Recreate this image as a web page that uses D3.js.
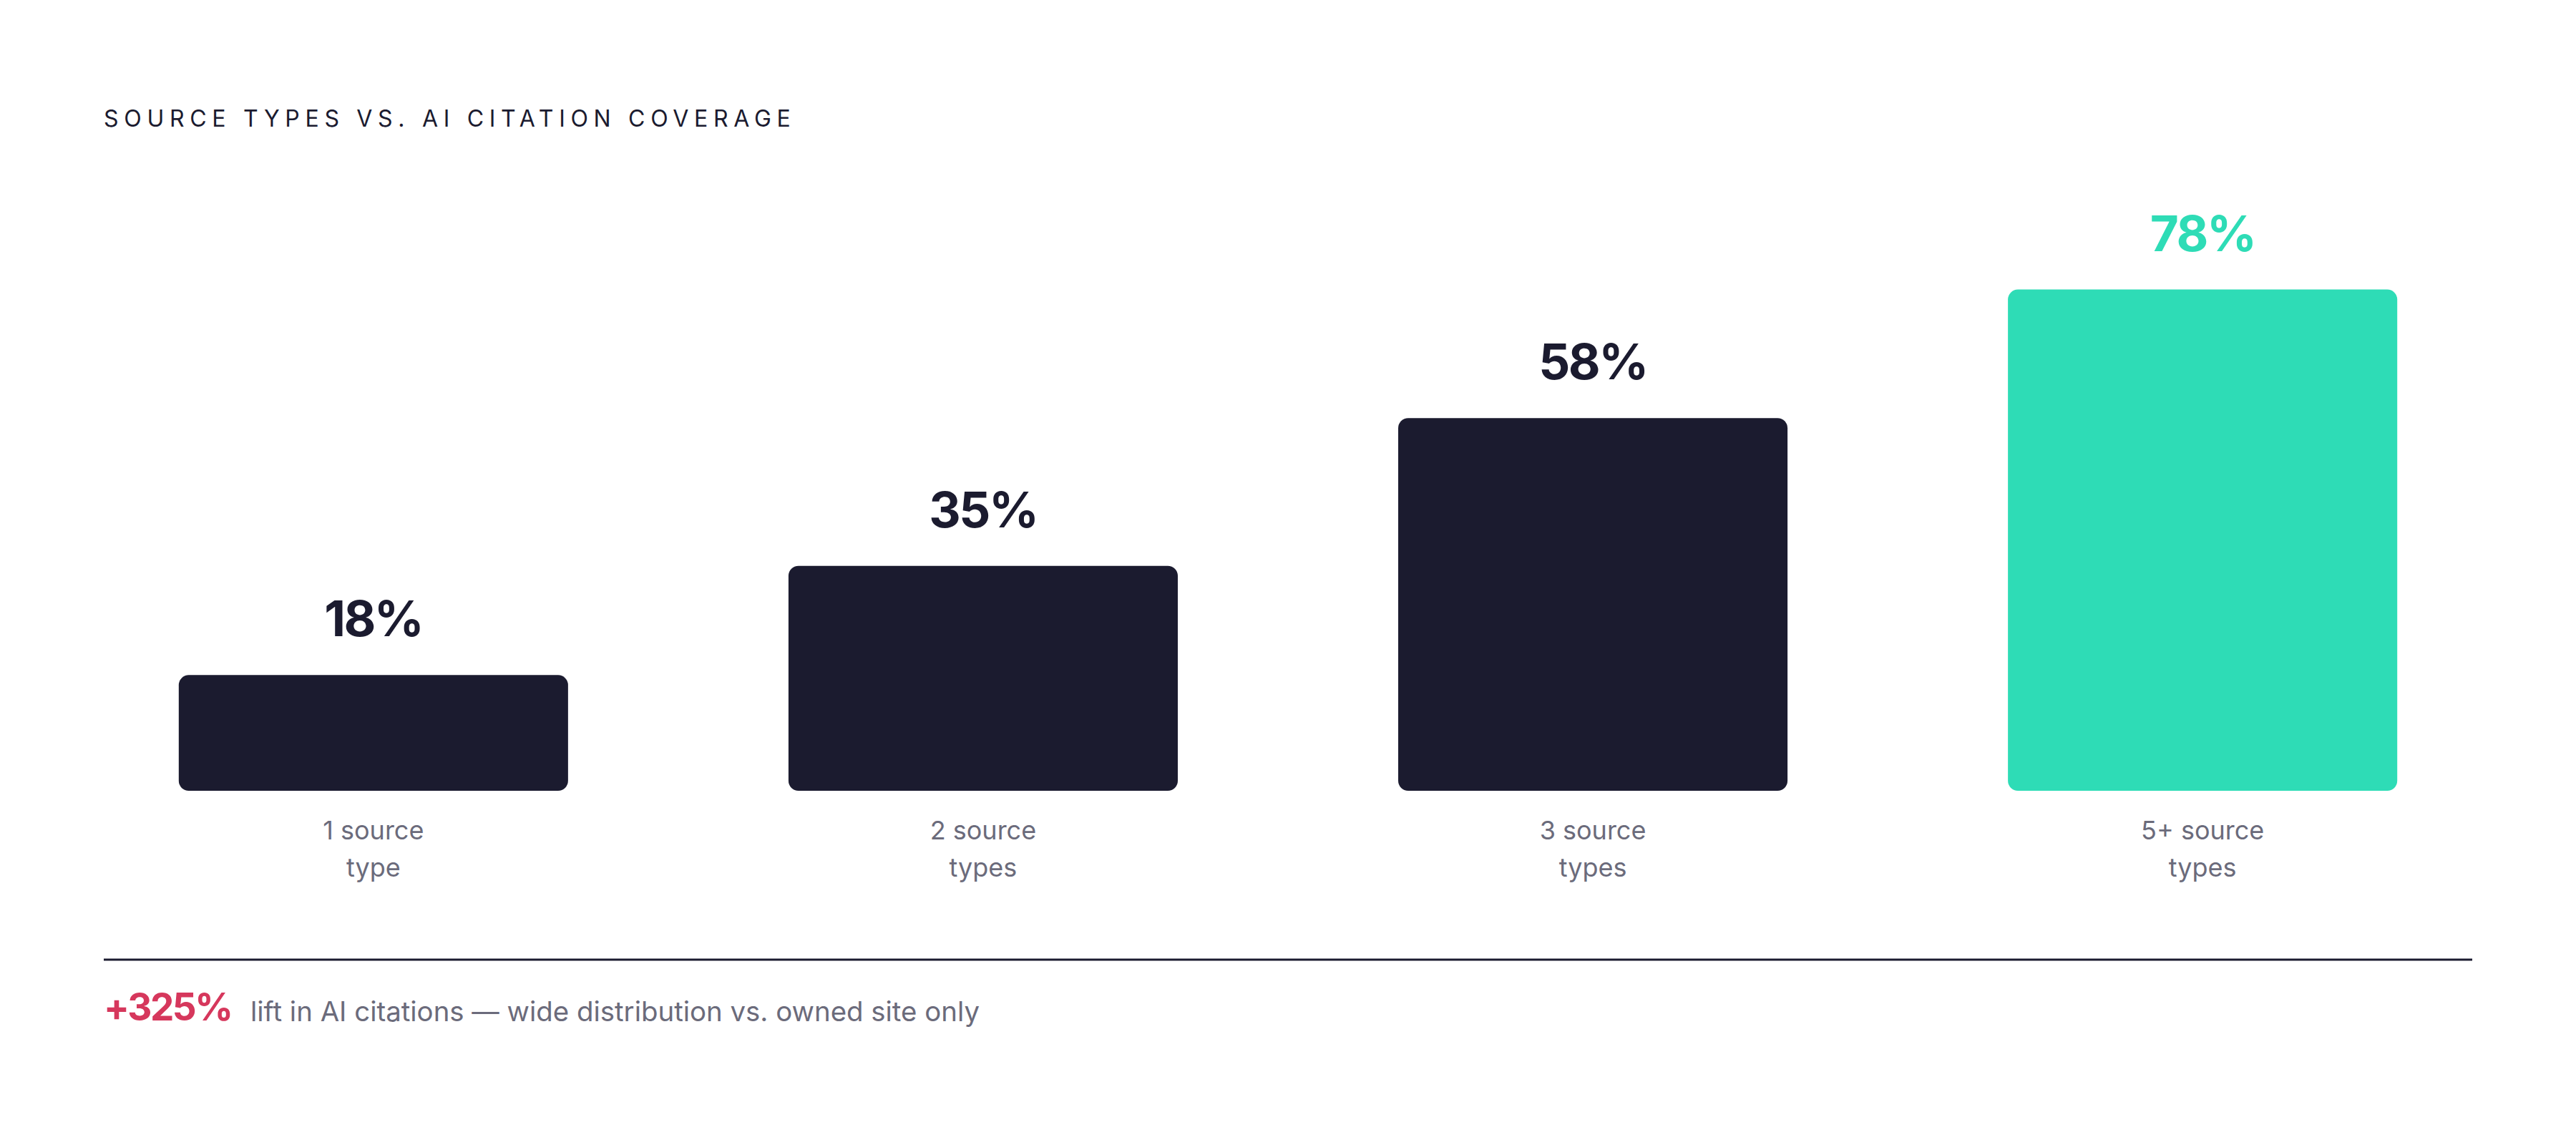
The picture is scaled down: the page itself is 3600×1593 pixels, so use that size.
<!DOCTYPE html>
<html>
<head>
    <meta charset="UTF-8">
    <title>Source types vs. AI citation coverage</title>
    <script src="https://cdn.jsdelivr.net/npm/d3@7"></script>
    <style>
        html, body { margin: 0; padding: 0; background: #ffffff; }
        svg text { font-family: Inter, "Noto Sans", sans-serif; }
    </style>
</head>
<body>
    <svg id="chart"></svg>
    <script>
        // data
        const categories = ["1 source\ntype", "2 source\ntypes", "3 source\ntypes", "5+ source\ntypes"];
        const coverage = [18, 35, 58, 78];
        const highlight = [false, false, false, true];
        const title = "SOURCE TYPES VS. AI CITATION COVERAGE";
        const liftValue = "+325%";
        const liftText = "lift in AI citations \u2014 wide distribution vs. owned site only";

        const width = 3600, height = 1593;
        const dark = "#1b1b2f", teal = "#2edcb6", grey = "#6b6b7b", red = "#d6375c";

        const svg = d3.select("#chart")
            .attr("width", width)
            .attr("height", height);

        // scales
        const x = d3.scaleBand()
            .domain(categories)
            .range([145, 3455])
            .paddingInner(0.3615)
            .paddingOuter(0.123);

        const y = d3.scaleLinear()
            .domain([0, 100])
            .range([1105, 207]);

        // title
        svg.append("text")
            .attr("x", 145)
            .attr("y", 177)
            .attr("fill", dark)
            .style("font-size", "32px")
            .style("letter-spacing", "7.7px")
            .text(title);

        const rows = categories.map((c, i) => ({ cat: c, value: coverage[i], hi: highlight[i] }));

        // bars
        svg.selectAll("rect.bar")
            .data(rows)
            .join("rect")
            .attr("class", "bar")
            .attr("x", d => x(d.cat))
            .attr("y", d => y(d.value))
            .attr("width", x.bandwidth())
            .attr("height", d => y(0) - y(d.value))
            .attr("rx", 14)
            .attr("fill", d => d.hi ? teal : dark);

        // value labels
        svg.selectAll("text.value")
            .data(rows)
            .join("text")
            .attr("class", "value")
            .attr("x", d => x(d.cat) + x.bandwidth() / 2)
            .attr("y", d => y(d.value) - 54)
            .attr("text-anchor", "middle")
            .attr("fill", d => d.hi ? teal : dark)
            .style("font-size", "69px")
            .style("font-weight", 700)
            .style("letter-spacing", "-2.5px")
            .text(d => d.value + "%");

        // category labels, two lines each
        const cat = svg.selectAll("text.cat")
            .data(rows)
            .join("text")
            .attr("class", "cat")
            .attr("text-anchor", "middle")
            .attr("fill", grey)
            .style("font-size", "36px");

        cat.selectAll("tspan")
            .data(d => d.cat.split("\n").map(line => ({ line, cx: x(d.cat) + x.bandwidth() / 2 })))
            .join("tspan")
            .attr("x", d => d.cx)
            .attr("y", (d, i) => y(0) + 68 + i * 52)
            .text(d => d.line);

        // divider
        svg.append("line")
            .attr("x1", 145)
            .attr("x2", 3455)
            .attr("y1", 1341)
            .attr("y2", 1341)
            .attr("stroke", dark)
            .attr("stroke-width", 3);

        // footnote
        svg.append("text")
            .attr("x", 145)
            .attr("y", 1426)
            .attr("fill", red)
            .style("font-size", "53px")
            .style("font-weight", 700)
            .style("letter-spacing", "-2.5px")
            .text(liftValue);

        svg.append("text")
            .attr("x", 350)
            .attr("y", 1427)
            .attr("fill", grey)
            .style("font-size", "38.4px")
            .text(liftText);
    </script>
</body>
</html>
